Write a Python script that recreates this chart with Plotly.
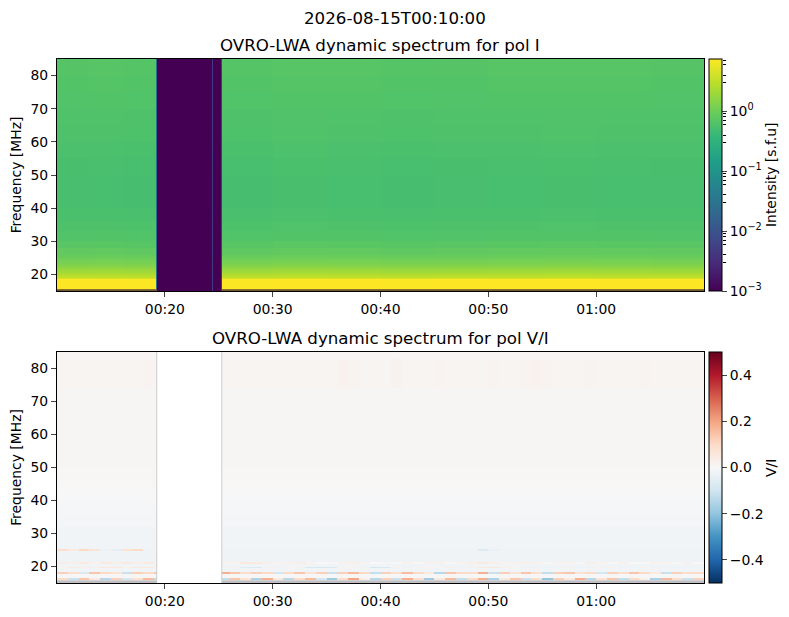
import plotly.graph_objects as go

W, H = 789, 617
# frame of the plotting area in page pixels, a bit larger than the panels so colorbars have room
L, R, T, B = 57, 722, 40, 602
AX_RIGHT = 704

# top panel: Stokes I, log10(s.f.u)
freq_edges_i = [15.0, 15.55, 16, 17, 18, 18.5, 19, 19.5, 20, 20.5, 21, 21.5, 22, 22.5, 23, 24, 25, 26, 28, 30,
                33, 36, 40, 45, 50, 55, 60, 65, 70, 75, 80, 85]
log_intensity = [0.87, 0.87, 0.87, 0.87, 0.87, 0.62, 0.50, 0.42, 0.37, 0.32, 0.27, 0.22, 0.17, 0.12, 0.07, 0.02, -0.04,
                 -0.09, -0.15, -0.2, -0.23, -0.26, -0.28, -0.28, -0.27, -0.25, -0.23, -0.22, -0.2, -0.19, -0.17]
times_i = ["00:10:00", "00:13:00", "00:16:00", "00:19:12", "00:19:17", "00:24:20", "00:24:27", "00:25:12",
           "00:25:18", "00:30:00", "00:35:00", "00:40:00", "00:45:00", "00:50:00", "00:55:00", "01:00:00",
           "01:05:00", "01:10:00"]
column_offset = [0.0, 0.005, -0.005, 0, 0, 0, 0, 0, -0.005, 0.01, 0.005, -0.005, 0.0, 0.005, 0.01, 0.005, 0.0]
column_fixed = [None, None, None, -1.6, -3.0, -2.3, -3.0, -2.3, None, None, None, None, None, None, None, None, None]

# bottom panel: V/I background by frequency
freq_edges_v = [15.0, 15.8, 16.4, 16.9, 17.8, 18.3, 19.4, 19.8, 20.9, 21.3, 24.8, 25.2, 28, 32, 36, 40, 44, 50, 60,
                74, 83, 85]
vi_level = [0.0, -0.015, 0.004, 0.002, 0.03, -0.015, -0.01, -0.018, 0.01, -0.02, -0.02, -0.018, -0.015, -0.01, -0.005,
            0.001, 0.004, 0.006, 0.008, 0.01, 0.009]
times_v = ["00:10:00", "00:11:00", "00:12:00", "00:13:00", "00:14:00", "00:15:00", "00:16:00", "00:17:00",
           "00:18:00", "00:19:00", "00:19:17", "00:25:18", "00:26:00", "00:27:00", "00:28:00", "00:29:00",
           "00:30:00", "00:31:00", "00:32:00", "00:33:00", "00:34:00", "00:35:00", "00:36:00", "00:37:00",
           "00:38:00", "00:39:00", "00:40:00", "00:41:00", "00:42:00", "00:43:00", "00:44:00", "00:45:00",
           "00:46:00", "00:47:00", "00:48:00", "00:49:00", "00:50:00", "00:51:00", "00:52:00", "00:53:00",
           "00:54:00", "00:55:00", "00:56:00", "00:57:00", "00:58:00", "00:59:00", "01:00:00", "01:01:00",
           "01:02:00", "01:03:00", "01:04:00", "01:05:00", "01:06:00", "01:07:00", "01:08:00", "01:09:00",
           "01:10:00"]
GAP = None
row_16 = [0.1, -0.11, 0.14, 0.05, -0.14, 0.12, -0.09, 0.08, 0.16, -0.12, GAP,
          -0.12, 0.14, 0.07, -0.16, 0.18, 0.05, -0.14, 0.1, 0.16, -0.09, -0.18, 0.09, 0.2, 0.03, -0.14,
          0.12, -0.11, 0.18, 0.09, -0.18, 0.05, 0.16, -0.12, 0.1, 0.18, -0.16, 0.05, 0.14, -0.11, 0.09,
          -0.2, 0.12, 0.05, 0.18, -0.14, 0.07, 0.14, -0.12, 0.1, 0.03, -0.16, 0.16, 0.09, -0.11, 0.12]
row_18 = [0.12, 0.09, -0.07, 0.14, 0.1, 0.07, -0.11, 0.12, 0.1, 0.14, GAP,
          0.18, 0.14, 0.09, 0.12, 0.1, -0.09, 0.1, 0.14, 0.07, 0.12, -0.11, 0.12, 0.16, 0.1, -0.12,
          0.12, 0.09, 0.16, 0.1, 0.05, -0.14, 0.14, 0.1, 0.09, 0.18, -0.11, 0.12, 0.07, 0.14, 0.09,
          -0.12, 0.12, 0.14, 0.07, 0.1, -0.09, 0.12, 0.09, 0.14, 0.1, 0.05, -0.11, 0.12, 0.09, 0.1]
row_19 = [0.02, 0.05, 0.03, 0.03, 0.06, 0.05, 0.03, 0.05, 0.06, 0.02, GAP,
          0.02, 0.03, -0.06, -0.08, 0.02, -0.02, 0.02, 0.02, -0.08, -0.09, -0.08, 0.02, 0.02, -0.02, -0.09,
          -0.08, 0.02, -0.03, 0.02, 0.02, 0.02, 0.03, -0.02, 0.03, 0.05, 0.06, 0.03, 0.02, -0.03, -0.03,
          -0.03, -0.02, 0.02, -0.03, -0.03, 0.02, 0.02, -0.02, -0.03, 0.02, -0.02, -0.03, -0.03, -0.02, -0.02]
row_21 = [0.04, 0.03, 0.05, 0.02, 0.05, 0.03, 0.05, 0.03, 0.05, 0.02, GAP,
          0.02, 0.02, 0.05, 0.05, 0.03, 0.02, 0.02, 0.03, 0.02, 0.0, -0.01, 0.02, 0.03, 0.02, 0.0,
          -0.01, 0.0, 0.02, 0.0, 0.02, 0.02, 0.0, 0.02, 0.03, 0.05, 0.03, 0.02, 0.02, 0.03, 0.02,
          0.0, 0.02, 0.02, 0.0, 0.03, 0.02, 0.0, 0.02, 0.0, 0.0, 0.02, 0.02, 0.0, 0.02, 0.0]
row_25 = [0.09, 0.05, 0.1, 0.07, -0.03, -0.05, 0.07, 0.1, -0.02, -0.02, GAP,
          -0.02, -0.02, -0.02, -0.02, -0.02, -0.02, -0.02, -0.02, -0.02, -0.02, -0.02, -0.02, -0.02, -0.02, -0.02,
          -0.02, -0.02, -0.02, -0.02, -0.02, -0.02, -0.02, -0.02, -0.02, -0.07, -0.04, -0.02, -0.02, -0.02, -0.02,
          -0.02, -0.02, -0.02, -0.02, -0.02, -0.02, -0.02, -0.02, -0.02, -0.02, -0.02, -0.02, -0.02, -0.02, -0.02]
row_streaks = [0.01, 0.012, 0.01, 0.01, 0.01, 0.012, 0.01, 0.01, 0.014, 0.012, GAP,
               0.01, 0.01, 0.01, 0.012, 0.01, 0.01, 0.01, 0.01, 0.01, 0.012, 0.012, 0.02, 0.016, 0.012, 0.01,
               0.01, 0.018, 0.01, 0.01, 0.012, 0.014, 0.012, 0.01, 0.012, 0.012, 0.014, 0.012, 0.012, 0.016, 0.02,
               0.014, 0.01, 0.01, 0.01, 0.014, 0.012, 0.01, 0.01, 0.012, 0.014, 0.01, 0.012, 0.012, 0.01, 0.01]
gap_columns = [10]
special_rows = {1: row_16, 4: row_18, 6: row_19, 8: row_21, 10: row_25, 19: row_streaks}

# overlay bits the colormaps cannot give
edge_times = ["00:10:00", "00:19:17", "00:25:18", "01:10:00"]
line_times = ["00:19:12", "00:19:18", "00:25:12", "00:25:20"]

tick_times = ["00:20:00", "00:30:00", "00:40:00", "00:50:00", "01:00:00"]
tick_labels = ["00:20", "00:30", "00:40", "00:50", "01:00"]
freq_ticks = [20, 30, 40, 50, 60, 70, 80]
i_ticks = [0, -1, -2, -3]
i_labels = ["10<sup>0</sup>", "10<sup>\u22121</sup>", "10<sup>\u22122</sup>", "10<sup>\u22123</sup>"]
vi_ticks = [-0.4, -0.2, 0, 0.2, 0.4]
vi_labels = ["\u22120.4", "\u22120.2", "0.0", "0.2", "0.4"]


def stamp(t):
    return "2026-08-15 " + t


def flat(colour):
    return [[0, colour], [1, colour]]


def px_x(px):
    return (px - L) / (R - L)


def px_y(py):
    return (B - py) / (B - T)


TEXT = dict(family="DejaVu Sans", size=13.9, color="black")
TITLE = dict(family="DejaVu Sans", size=16.67, color="black")


def colorbar(top, bottom, vals, labels):
    return dict(x=px_x(709), xanchor="left", y=px_y(bottom), yanchor="bottom", len=(bottom - top) / (B - T),
                lenmode="fraction", thickness=13, thicknessmode="pixels", xpad=0, ypad=0,
                outlinewidth=1, outlinecolor="black", ticks="outside", ticklen=5, tickwidth=1,
                tickmode="array", tickvals=vals, ticktext=labels, tickfont=TEXT)


def page_text(text, x, y, font, angle=0):
    return dict(text=text, x=px_x(x), y=px_y(y), xref="paper", yref="paper", showarrow=False,
                xanchor="center", yanchor="middle", font=font, textangle=angle)


z_i = [[fixed if fixed is not None else level + off for off, fixed in zip(column_offset, column_fixed)]
       for level in log_intensity]

z_v = []
for r, level in enumerate(vi_level):
    if r in special_rows:
        z_v.append(special_rows[r])
    else:
        z_v.append([None if c in gap_columns else level for c in range(len(times_v) - 1)])

fig = go.Figure()

fig.add_trace(go.Heatmap(
    x=[stamp(t) for t in times_i], y=freq_edges_i, z=z_i, colorscale="Viridis", zmin=-3, zmax=0.87,
    xaxis="x", yaxis="y", hoverinfo="skip",
    colorbar=colorbar(59, 291, i_ticks, i_labels),
))
# brownish first channel row
fig.add_trace(go.Heatmap(
    x=[stamp(t) for t in edge_times], y=[15.0, 15.55], z=[[1, None, 1]], colorscale=flat("rgb(112,88,52)"),
    showscale=False, xaxis="x", yaxis="y", hoverinfo="skip",
))

fig.add_trace(go.Heatmap(
    x=[stamp(t) for t in times_v], y=freq_edges_v, z=z_v, colorscale="RdBu_r", zmin=-0.5, zmax=0.5,
    xaxis="x2", yaxis="y2", hoverinfo="skip",
    colorbar=colorbar(352, 583, vi_ticks, vi_labels),
))
fig.add_trace(go.Heatmap(
    x=[stamp(t) for t in edge_times], y=[15.0, 15.8], z=[[1, None, 1]], colorscale=flat("rgb(190,190,195)"),
    showscale=False, xaxis="x2", yaxis="y2", hoverinfo="skip",
))
fig.add_trace(go.Heatmap(
    x=[stamp(t) for t in line_times], y=[15.0, 85.0], z=[[1, None, 1]], colorscale=flat("rgb(205,205,205)"),
    showscale=False, xaxis="x2", yaxis="y2", hoverinfo="skip",
))

x_common = dict(range=[stamp("00:10:00"), stamp("01:10:00")], domain=[0, px_x(AX_RIGHT)], type="date",
                tickmode="array", tickvals=[stamp(t) for t in tick_times], ticktext=tick_labels,
                ticks="outside", ticklen=5, tickwidth=1, tickfont=TEXT, showgrid=False, zeroline=False,
                showline=True, linecolor="black", linewidth=1, mirror=True)
y_common = dict(range=[15, 85], tickmode="array", tickvals=freq_ticks, ticks="outside", ticklen=5, tickwidth=1,
                tickfont=TEXT, showgrid=False, zeroline=False, showline=True, linecolor="black", linewidth=1,
                mirror=True, title=dict(text="Frequency [MHz]", font=TEXT, standoff=5))

# empty trace so the log axis with the colorbar's minor ticks gets drawn
fig.add_trace(go.Scatter(x=[None], y=[None], xaxis="x3", yaxis="y3", showlegend=False, hoverinfo="skip"))

fig.update_layout(
    width=W, height=H, autosize=False, margin=dict(l=L, r=W - R, t=T, b=H - B, pad=0, autoexpand=False),
    paper_bgcolor="white", plot_bgcolor="rgba(0,0,0,0)", showlegend=False,
    xaxis=dict(anchor="y", **x_common),
    yaxis=dict(anchor="x", domain=[px_y(291), px_y(59)], **y_common),
    xaxis2=dict(anchor="y2", **x_common),
    yaxis2=dict(anchor="x2", domain=[px_y(583), px_y(352)], **y_common),
    xaxis3=dict(anchor="y3", domain=[px_x(709), 1], visible=False, range=[0, 1]),
    yaxis3=dict(anchor="free", position=1, domain=[px_y(291), px_y(59)], side="right", type="log", range=[-3, 0.87],
                showticklabels=False, ticks="", showgrid=False, zeroline=False, showline=False,
                minor=dict(ticks="outside", ticklen=3, tickwidth=0.8, tickcolor="black", showgrid=False)),
    annotations=[
        page_text("2026-08-15T00:10:00", 395, 18, TITLE),
        page_text("OVRO-LWA dynamic spectrum for pol I", 380, 45, TITLE),
        page_text("OVRO-LWA dynamic spectrum for pol V/I", 380, 338, TITLE),
        page_text("Intensity [s.f.u]", 771, 175, TEXT, -90),
        page_text("V/I", 771, 468, TEXT, -90),
    ],
)

fig.write_html("out.html", config=dict(displayModeBar=False),
               post_script="document.body.style.margin='0';document.body.style.overflow='hidden';")
